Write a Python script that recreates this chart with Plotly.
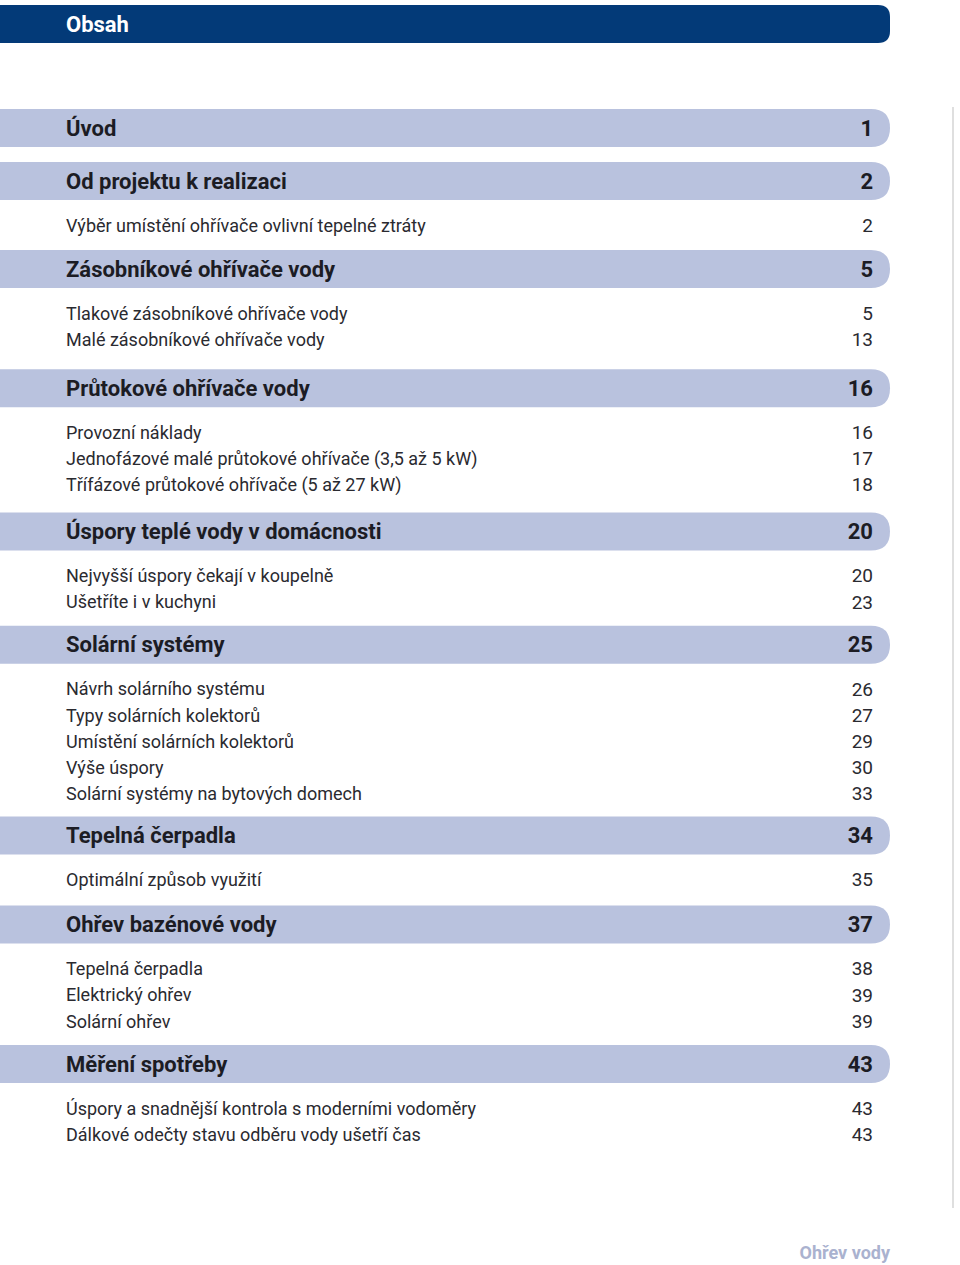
import plotly.graph_objects as go

# ---------------- data ----------------
header_title = "Obsah"
footer_title = "Ohřev vody"

section_titles = [
    "Úvod",
    "Od projektu k realizaci",
    "Zásobníkové ohřívače vody",
    "Průtokové ohřívače vody",
    "Úspory teplé vody v domácnosti",
    "Solární systémy",
    "Tepelná čerpadla",
    "Ohřev bazénové vody",
    "Měření spotřeby",
]
section_pages = [1, 2, 5, 16, 20, 25, 34, 37, 43]

sub_titles = [
    [],
    ["Výběr umístění ohřívače ovlivní tepelné ztráty"],
    ["Tlakové zásobníkové ohřívače vody", "Malé zásobníkové ohřívače vody"],
    ["Provozní náklady", "Jednofázové malé průtokové ohřívače (3,5 až 5 kW)",
     "Třífázové průtokové ohřívače (5 až 27 kW)"],
    ["Nejvyšší úspory čekají v koupelně", "Ušetříte i v kuchyni"],
    ["Návrh solárního systému", "Typy solárních kolektorů", "Umístění solárních kolektorů",
     "Výše úspory", "Solární systémy na bytových domech"],
    ["Optimální způsob využití"],
    ["Tepelná čerpadla", "Elektrický ohřev", "Solární ohřev"],
    ["Úspory a snadnější kontrola s moderními vodoměry", "Dálkové odečty stavu odběru vody ušetří čas"],
]
sub_pages = [
    [],
    [2],
    [5, 13],
    [16, 17, 18],
    [20, 23],
    [26, 27, 29, 30, 33],
    [35],
    [38, 39, 39],
    [43, 43],
]

# ---------------- layout constants ----------------
W, H = 960, 1265
FONT = "Roboto, Liberation Sans, sans-serif"
BAR_COLOR = "#b9c2de"
HEAD_COLOR = "#033a78"
TEXT_X = 66
NUM_X = 873
BAR_RIGHT = 890
BAR_H = 38
TEXT_DY = 2  # optical baseline correction

first_bar_y = 128
gap_to_next_bar = [53, 44, 49, 47, 43, 42, 45, 43]   # vertical space before each following bar
gap_bar_sub = 44
gap_sub_sub = 26.2

# compute row positions
sec_y, sub_y = [], []
y = first_bar_y
for i, subs in enumerate(sub_titles):
    sec_y.append(y)
    ys = []
    if subs:
        y += gap_bar_sub
        for k in range(len(subs)):
            if k:
                y += gap_sub_sub
            ys.append(y)
    sub_y.append(ys)
    if i < len(gap_to_next_bar):
        y += gap_to_next_bar[i]


def rounded_bar(y0, y1, x0, x1, r):
    return (f"M {x0},{y0} L {x1 - r},{y0} Q {x1},{y0} {x1},{y0 + r} "
            f"L {x1},{y1 - r} Q {x1},{y1} {x1 - r},{y1} L {x0},{y1} Z")


shapes = []
# header bar
shapes.append(dict(type="path", path=rounded_bar(5, 43, 0, BAR_RIGHT, 12),
                   fillcolor=HEAD_COLOR, line=dict(width=0), layer="below"))
# section bars
for yc in sec_y:
    shapes.append(dict(type="path",
                       path=rounded_bar(yc - BAR_H / 2, yc + BAR_H / 2, 0, BAR_RIGHT, BAR_H / 2),
                       fillcolor=BAR_COLOR, line=dict(width=0), layer="below"))
# thin right rule
shapes.append(dict(type="line", x0=953, x1=953, y0=107, y1=1208,
                   line=dict(color="#d4d4d4", width=1.5), layer="below"))

fig = go.Figure()

# header
fig.add_trace(go.Scatter(x=[TEXT_X], y=[24 + TEXT_DY], mode="text", text=[header_title],
                         textposition="middle right",
                         textfont=dict(family=FONT, size=22, color="white", weight="bold"),
                         hoverinfo="skip"))

# section titles and pages
sec_ty = [v + TEXT_DY for v in sec_y]
fig.add_trace(go.Scatter(x=[TEXT_X] * len(section_titles), y=sec_ty, mode="text",
                         text=section_titles, textposition="middle right",
                         textfont=dict(family=FONT, size=22, color="#1c1c24", weight="bold"),
                         hoverinfo="skip"))
fig.add_trace(go.Scatter(x=[NUM_X] * len(section_pages), y=sec_ty, mode="text",
                         text=[str(p) for p in section_pages], textposition="middle left",
                         textfont=dict(family=FONT, size=22, color="#1c1c24", weight="bold"),
                         hoverinfo="skip"))

# sub items
flat_titles = [t for subs in sub_titles for t in subs]
flat_pages = [str(p) for ps in sub_pages for p in ps]
flat_y = [v + TEXT_DY for ys in sub_y for v in ys]
fig.add_trace(go.Scatter(x=[TEXT_X] * len(flat_titles), y=flat_y, mode="text",
                         text=flat_titles, textposition="middle right",
                         textfont=dict(family=FONT, size=18, color="#2a2a30"),
                         hoverinfo="skip"))
fig.add_trace(go.Scatter(x=[NUM_X] * len(flat_pages), y=flat_y, mode="text",
                         text=flat_pages, textposition="middle left",
                         textfont=dict(family=FONT, size=19, color="#2a2a30"),
                         hoverinfo="skip"))

# footer
fig.add_trace(go.Scatter(x=[BAR_RIGHT], y=[1252 + TEXT_DY], mode="text", text=[footer_title],
                         textposition="middle left",
                         textfont=dict(family=FONT, size=18, color="#aab2cf", weight="bold"),
                         hoverinfo="skip"))

fig.update_layout(
    width=W, height=H,
    margin=dict(l=0, r=0, t=0, b=0),
    paper_bgcolor="white", plot_bgcolor="white",
    showlegend=False,
    shapes=shapes,
    xaxis=dict(range=[0, W], visible=False, fixedrange=True),
    yaxis=dict(range=[H, 0], visible=False, fixedrange=True),
)

fig.write_html("out.html", config={"displayModeBar": False})

# remove the browser's default page margin so the figure sits at (0, 0)
with open("out.html", encoding="utf-8") as f:
    html = f.read()
html = html.replace("<head>", "<head><style>html,body{margin:0;padding:0;overflow:hidden;}</style>", 1)
with open("out.html", "w", encoding="utf-8") as f:
    f.write(html)
